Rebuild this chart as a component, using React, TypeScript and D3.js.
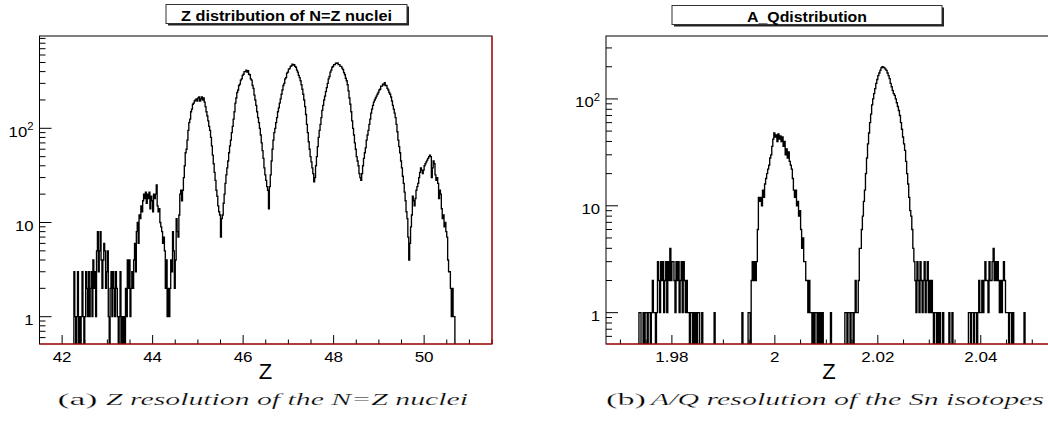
import React from 'react';
import * as d3 from 'd3';

// ---------- text ----------
const leftTitle = 'Z distribution of N=Z nuclei';
const rightTitle = 'A_Qdistribution';
const xAxisLabel = 'Z';
const leftCaptionTag = '(a)';
const leftCaptionText = 'Z resolution of the N=Z nuclei';
const rightCaptionTag = '(b)';
const rightCaptionText = 'A/Q resolution of the Sn isotopes';

// ---------- data: left histogram (Z), bins of 0.02 starting at 42.24 ----------
const leftBinStart = 42.24;
const leftBinWidth = 0.02;
const leftCounts = [
  0, 3, 1, 0, 1, 3, 0, 1, 0, 1,
  3, 1, 0, 1, 3, 2, 1, 3, 1, 2,
  3, 1, 4, 2, 3, 1, 5, 8, 3, 5,
  8, 4, 2, 4, 6, 5, 2, 3, 5, 1,
  0, 2, 3, 1, 3, 2, 1, 3, 2, 1,
  0, 1, 3, 0, 1, 0, 1, 0, 2, 1,
  4, 2, 4, 1, 2, 3, 2, 4, 6, 3,
  8, 10, 6, 12, 11, 15, 13, 17, 20, 18,
  21, 16, 20, 18, 21, 14, 19, 17, 13, 20,
  18, 20, 25, 15, 13, 14, 10, 9, 8, 6,
  7, 5, 2, 4, 1, 2, 1, 2, 4, 3,
  8, 5, 2, 4, 11, 8, 7, 12, 20, 22,
  17, 22, 30, 40, 55, 60, 75, 95, 115, 125,
  150, 160, 180, 185, 195, 200, 205, 195, 210, 215,
  195, 205, 215, 200, 210, 190, 170, 150, 135, 120,
  105, 95, 80, 65, 52, 42, 34, 28, 22, 19,
  15, 13, 12, 7, 11, 12, 16, 20, 26, 32,
  38, 45, 55, 65, 75, 90, 105, 125, 150, 185,
  210, 240, 255, 285, 295, 325, 335, 365, 375, 400,
  400, 415, 395, 410, 375, 370, 335, 325, 285, 265,
  225, 200, 175, 150, 130, 115, 100, 85, 70, 58,
  48, 38, 32, 28, 24, 22, 14, 24, 32, 45,
  60, 75, 90, 100, 115, 130, 150, 165, 185, 205,
  230, 255, 285, 300, 335, 345, 385, 395, 425, 430,
  455, 460, 480, 470, 475, 455, 445, 415, 395, 365,
  345, 320, 290, 260, 230, 200, 170, 140, 110, 90,
  72, 60, 50, 44, 38, 33, 27, 30, 40, 50,
  64, 80, 95, 110, 130, 155, 175, 200, 220, 245,
  270, 300, 335, 355, 395, 415, 445, 455, 475, 475,
  490, 490, 495, 475, 475, 455, 455, 435, 420, 390,
  370, 340, 320, 290, 250, 210, 180, 150, 120, 100,
  85, 70, 60, 50, 45, 40, 33, 30, 28, 33,
  40, 48, 55, 62, 75, 85, 95, 110, 125, 145,
  160, 175, 190, 200, 210, 220, 230, 240, 255, 260,
  280, 280, 295, 290, 305, 285, 285, 265, 255, 240,
  230, 215, 195, 175, 160, 145, 130, 110, 92, 75,
  64, 55, 45, 38, 31, 26, 21, 17, 13, 11,
  7, 4, 6, 9, 12, 19, 17, 15, 18, 22,
  24, 26, 30, 34, 38, 36, 33, 36, 40, 42,
  44, 46, 48, 50, 52, 50, 30, 38, 45, 42,
  32, 28, 30, 26, 18, 22, 20, 14, 11, 12,
  9, 10, 8, 7, 4, 3, 3, 2, 1, 2,
  1, 1, 0, 0,
];

// ---------- data: right histogram (A/Q), bins of 0.0002 starting at 1.9732 ----------
const rightBinStart = 1.9732;
const rightBinWidth = 0.0002;
const rightCounts = [
  0, 0, 1, 1, 0, 0, 1, 0, 1, 1,
  0, 1, 1, 0, 1, 2, 1, 1, 0, 1,
  3, 2, 1, 3, 2, 3, 1, 2, 3, 1,
  3, 2, 4, 2, 3, 3, 2, 1, 3, 2,
  3, 1, 2, 3, 1, 3, 2, 1, 2, 1,
  1, 0, 1, 1, 0, 1, 0, 1, 0, 1,
  1, 0, 0, 1, 0, 0, 0, 0, 0, 0,
  0, 0, 0, 0, 0, 1, 0, 0, 0, 0,
  0, 0, 0, 0, 0, 0, 0, 0, 0, 0,
  0, 0, 0, 0, 0, 0, 0, 0, 0, 0,
  0, 0, 1, 0, 0, 0, 0, 0, 1, 1,
  0, 2, 3, 2, 3, 2, 3, 6, 12, 11,
  12, 10, 14, 12, 16, 18, 20, 22, 24, 28,
  30, 36, 42, 48, 44, 46, 40, 47, 42, 45,
  40, 44, 36, 40, 30, 34, 28, 32, 26, 24,
  22, 18, 14, 12, 14, 10, 11, 8, 9, 6,
  4, 5, 3, 3, 2, 2, 1, 2, 1, 1,
  0, 1, 0, 1, 1, 0, 1, 0, 1, 0,
  1, 0, 0, 0, 0, 0, 0, 0, 1, 0,
  0, 0, 0, 0, 0, 0, 0, 0, 0, 0,
  0, 0, 1, 1, 0, 1, 1, 0, 1, 1,
  0, 1, 2, 1, 1, 2, 4, 4, 6, 8,
  11, 14, 20, 28, 38, 48, 60, 72, 88, 100,
  112, 125, 140, 152, 165, 175, 185, 195, 200, 198,
  195, 190, 185, 175, 165, 155, 140, 130, 120, 112,
  108, 100, 92, 85, 78, 70, 60, 52, 44, 38,
  33, 26, 20, 16, 12, 9, 8, 6, 4, 3,
  2, 1, 3, 2, 1, 3, 2, 1, 2, 3,
  1, 2, 3, 1, 2, 1, 2, 1, 0, 1,
  1, 0, 1, 0, 1, 0, 0, 1, 0, 0,
  0, 0, 0, 1, 0, 0, 1, 0, 0, 0,
  0, 0, 0, 0, 0, 0, 0, 0, 0, 0,
  0, 0, 1, 1, 0, 1, 1, 0, 1, 1,
  0, 1, 2, 1, 1, 2, 1, 2, 3, 2,
  2, 1, 3, 2, 2, 3, 4, 2, 3, 2,
  3, 2, 1, 2, 1, 2, 3, 2, 1, 1,
  1, 0, 1, 1, 0, 1, 0, 0, 0, 0,
  0, 0, 0, 0, 0, 0, 1, 0, 0, 0,
];

// ---------- axes ----------
const leftXDomain = [41.5, 51.5];
const leftXMajor = [42, 44, 46, 48, 50];
const leftXLabels = ['42', '44', '46', '48', '50'];
const leftXMinorStep = 0.5;
const leftYDomain = [0.513, 955];

const rightXDomain = [1.9672, 2.055];
const rightXMajor = [1.98, 2, 2.02, 2.04];
const rightXLabels = ['1.98', '2', '2.02', '2.04'];
const rightXMinorStep = 0.005;
const rightYDomain = [0.509, 388];

const yMajor = [1, 10, 100];
const yLabelBase = ['1', '10', '10'];
const yLabelExp = ['', '', '2'];

const SANS = '"Liberation Sans", Arial, Helvetica, sans-serif';
const SERIF = '"Liberation Serif", "Times New Roman", serif';

type Frame = { x0: number; x1: number; y0: number; y1: number };

function SText(props: {
  x: number; y: number; sx?: number; size: number; anchor?: string;
  weight?: string; children: React.ReactNode;
}) {
  const { x, y, sx = 1, size, anchor = 'middle', weight = 'normal', children } = props;
  return (
    <text
      transform={`translate(${x},${y}) scale(${sx},1)`}
      textAnchor={anchor}
      fontSize={size}
      fontFamily={SANS}
      fontWeight={weight}
      fill="#000"
    >
      {children}
    </text>
  );
}

function Panel(props: {
  id: string;
  frame: Frame;
  xDomain: number[];
  yDomain: number[];
  counts: number[];
  binStart: number;
  binWidth: number;
  xMajor: number[];
  xLabels: string[];
  xMinorStep: number;
  redRight: boolean;
  zLabelX: number;
}) {
  const { id, frame, xDomain, yDomain, counts, binStart, binWidth, xMajor, xLabels, xMinorStep, redRight, zLabelX } = props;
  const x = d3.scaleLinear().domain(xDomain).range([frame.x0, frame.x1]);
  const y = d3.scaleLog().domain(yDomain).range([frame.y1, frame.y0]);
  const floorY = frame.y1 + 3;

  const pts: [number, number][] = [[x(binStart), floorY]];
  counts.forEach((c, i) => {
    const yy = c > 0 ? y(c) : floorY;
    pts.push([x(binStart + i * binWidth), yy], [x(binStart + (i + 1) * binWidth), yy]);
  });
  pts.push([x(binStart + counts.length * binWidth), floorY]);
  const path = d3.line()(pts) || '';

  const nMinor = Math.floor((xDomain[1] - xDomain[0]) / xMinorStep) + 2;
  const first = Math.ceil(xDomain[0] / xMinorStep - 1e-6) * xMinorStep;
  const xMinor = d3.range(nMinor)
    .map((k) => first + k * xMinorStep)
    .filter((v) => v >= xDomain[0] && v <= xDomain[1])
    .filter((v) => !xMajor.some((m) => Math.abs(m - v) < xMinorStep * 0.1));

  const yMinor = [0.1, 1, 10, 100]
    .flatMap((d) => [2, 3, 4, 5, 6, 7, 8, 9].map((k) => k * d))
    .filter((v) => v >= yDomain[0] && v <= yDomain[1]);

  return (
    <g>
      <defs>
        <clipPath id={`clip-${id}`}>
          <rect x={frame.x0} y={frame.y0} width={frame.x1 - frame.x0} height={frame.y1 - frame.y0} />
        </clipPath>
      </defs>
      <path d={path} fill="none" stroke="#000" strokeWidth={1.35} clipPath={`url(#clip-${id})`} />
      <rect x={frame.x0} y={frame.y0} width={frame.x1 - frame.x0} height={frame.y1 - frame.y0}
        fill="none" stroke="#000" strokeWidth={1} />
      {xMajor.map((v) => (
        <line key={`xm${v}`} x1={x(v)} x2={x(v)} y1={frame.y1} y2={frame.y1 - 9} stroke="#000" strokeWidth={1} />
      ))}
      {xMinor.map((v) => (
        <line key={`xn${v}`} x1={x(v)} x2={x(v)} y1={frame.y1} y2={frame.y1 - 4.5} stroke="#000" strokeWidth={1} />
      ))}
      {yMajor.map((v) => (
        <line key={`ym${v}`} x1={frame.x0} x2={frame.x0 + 12} y1={y(v)} y2={y(v)} stroke="#000" strokeWidth={1} />
      ))}
      {yMinor.map((v) => (
        <line key={`yn${v}`} x1={frame.x0} x2={frame.x0 + 6} y1={y(v)} y2={y(v)} stroke="#000" strokeWidth={1} />
      ))}
      <line x1={frame.x0} x2={frame.x1} y1={frame.y1} y2={frame.y1} stroke="#e00000" strokeWidth={1} />
      {redRight && (
        <line x1={frame.x1} x2={frame.x1} y1={frame.y0} y2={frame.y1} stroke="#e00000" strokeWidth={1} />
      )}
      {xMajor.map((v, i) => (
        <SText key={`xl${v}`} x={x(v)} y={362} size={15.5} sx={1.1}>{xLabels[i]}</SText>
      ))}
      {yMajor.map((v, i) => (
        <text
          key={`yl${v}`}
          transform={`translate(${frame.x0 - 6},${y(v) + 8.5}) scale(1.08,1)`}
          textAnchor="end"
          fontSize={15.5}
          fontFamily={SANS}
          fill="#000"
        >
          {yLabelBase[i]}
          {yLabelExp[i] && (
            <tspan fontSize={10.5} dy={-6.5}>{yLabelExp[i]}</tspan>
          )}
        </text>
      ))}
      <SText x={zLabelX} y={379} size={22}>{xAxisLabel}</SText>
    </g>
  );
}

function TitleBox(props: { x: number; y: number; w: number; h: number; text: string; len: number }) {
  const { x, y, w, h, text, len } = props;
  return (
    <g>
      <rect x={x + 2} y={y + 2} width={w} height={h} fill="#222" />
      <rect x={x} y={y} width={w} height={h} fill="#fff" stroke="#333" strokeWidth={1} />
      <text
        x={x + w / 2}
        y={y + 16.2}
        textAnchor="middle"
        fontSize={15}
        fontWeight="bold"
        fontFamily={SANS}
        textLength={len}
        lengthAdjust="spacingAndGlyphs"
        fill="#000"
      >
        {text}
      </text>
    </g>
  );
}

function Caption(props: { tagX: number; tagLen: number; textX: number; textLen: number; tag: string; text: string }) {
  const { tagX, tagLen, textX, textLen, tag, text } = props;
  return (
    <g fontFamily={SERIF} fontSize={17.5} fill="#000" stroke="#fff" strokeWidth={0.22}>
      <text x={tagX} y={404.5} textLength={tagLen} lengthAdjust="spacingAndGlyphs">{tag}</text>
      <text x={textX} y={404.5} fontStyle="italic" textLength={textLen} lengthAdjust="spacingAndGlyphs">{text}</text>
    </g>
  );
}

export default function App() {
  const leftFrame: Frame = { x0: 39.5, x1: 492, y0: 36, y1: 344 };
  const rightFrame: Frame = { x0: 606, x1: 1058, y0: 36, y1: 344 };
  return (
    <svg
      width={1048}
      height={428}
      viewBox="0 0 1048 428"
      style={{ position: 'absolute', left: 0, top: 0, background: '#fff' }}
    >
      <rect x={0} y={0} width={1048} height={428} fill="#fff" />
      <Panel
        id="left"
        frame={leftFrame}
        xDomain={leftXDomain}
        yDomain={leftYDomain}
        counts={leftCounts}
        binStart={leftBinStart}
        binWidth={leftBinWidth}
        xMajor={leftXMajor}
        xLabels={leftXLabels}
        xMinorStep={leftXMinorStep}
        redRight={true}
        zLabelX={265.5}
      />
      <Panel
        id="right"
        frame={rightFrame}
        xDomain={rightXDomain}
        yDomain={rightYDomain}
        counts={rightCounts}
        binStart={rightBinStart}
        binWidth={rightBinWidth}
        xMajor={rightXMajor}
        xLabels={rightXLabels}
        xMinorStep={rightXMinorStep}
        redRight={false}
        zLabelX={829}
      />
      <TitleBox x={166} y={4.5} w={241} h={19} text={leftTitle} len={211} />
      <TitleBox x={672} y={5.5} w={270} h={19} text={rightTitle} len={120} />
      <Caption tagX={57.5} tagLen={40} textX={106} textLen={362} tag={leftCaptionTag} text={leftCaptionText} />
      <Caption tagX={606} tagLen={40} textX={651} textLen={393} tag={rightCaptionTag} text={rightCaptionText} />
    </svg>
  );
}
